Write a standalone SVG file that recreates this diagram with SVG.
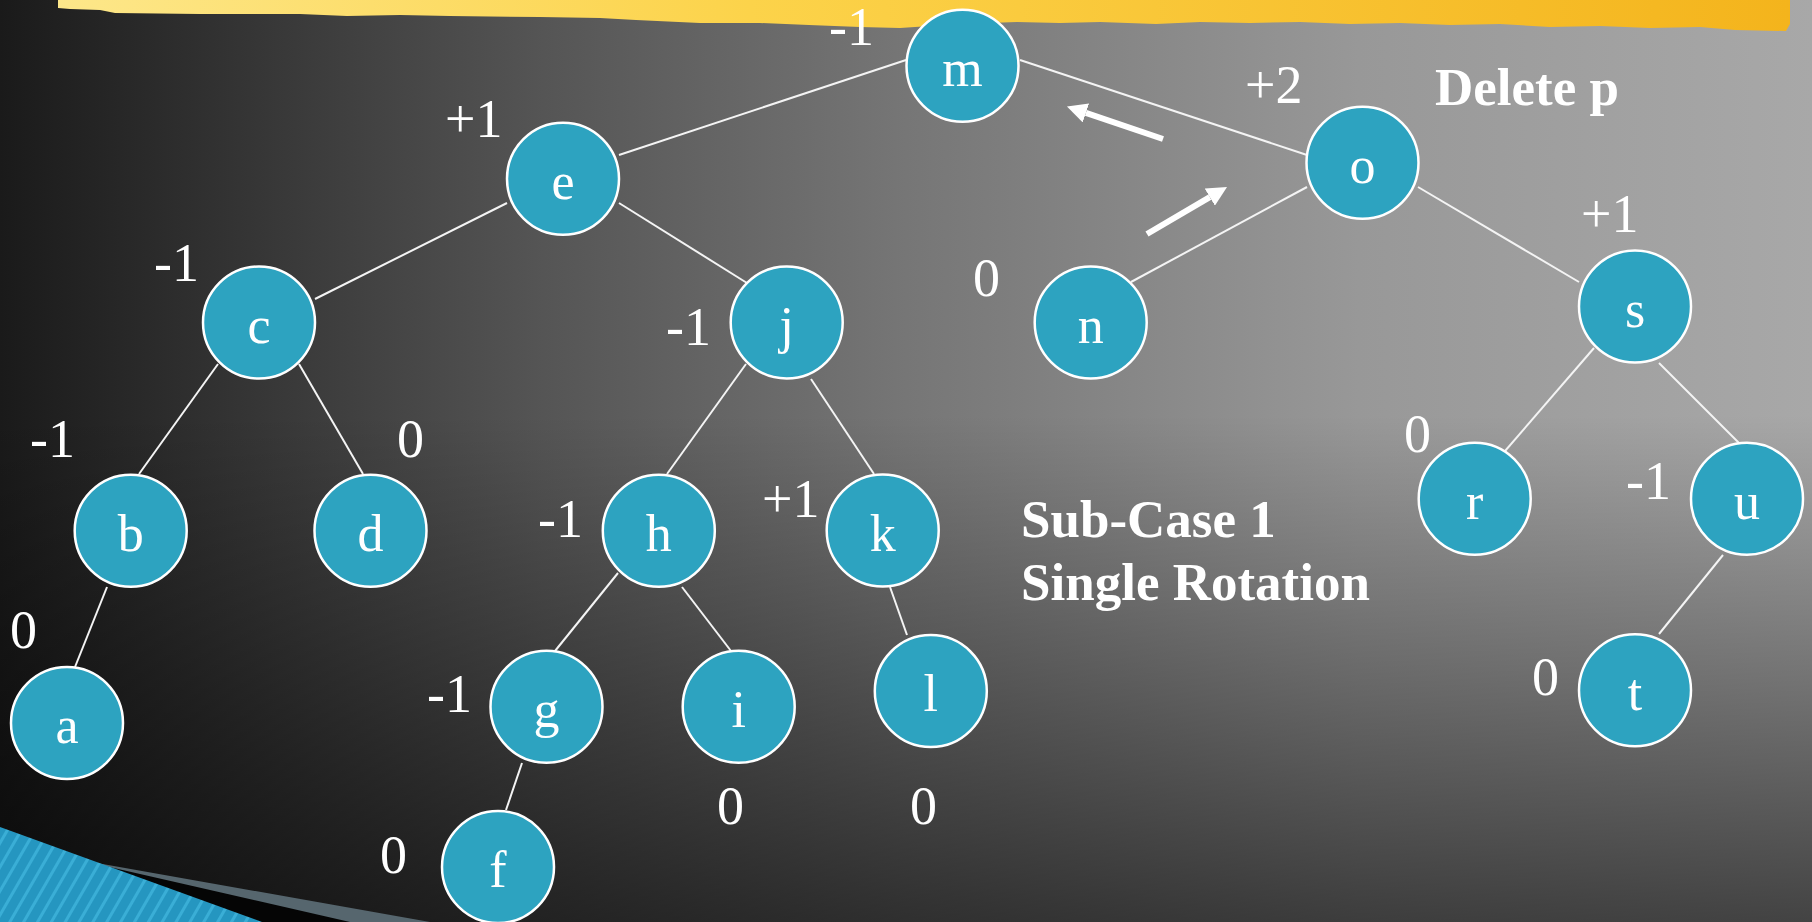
<svg xmlns="http://www.w3.org/2000/svg" width="1812" height="922" viewBox="0 0 1812 922">
<style>
.nd{fill:#2DA3C0;stroke:#ffffff;stroke-width:2.5}
.lt{font-family:"Liberation Serif","Times New Roman",serif;font-size:52px;fill:#ffffff;text-anchor:middle}
.bl{font-family:"Liberation Serif","Times New Roman",serif;font-size:54px;fill:#ffffff}
.ttl{font-family:"Liberation Serif","Times New Roman",serif;font-size:53px;font-weight:bold;fill:#ffffff}
.cn line{stroke:#f4f4f4;stroke-width:2}
.ar{stroke:#ffffff;stroke-width:6;marker-end:url(#ah)}
</style>
<defs>
<linearGradient id="bgH" x1="0" y1="0" x2="1812" y2="0" gradientUnits="userSpaceOnUse">
<stop offset="0" stop-color="#1a1a1a"/>
<stop offset="0.3" stop-color="#555555"/>
<stop offset="0.5" stop-color="#767676"/>
<stop offset="0.75" stop-color="#989898"/>
<stop offset="1" stop-color="#a8a8a8"/>
</linearGradient>
<linearGradient id="bgV" x1="0" y1="0" x2="0" y2="922" gradientUnits="userSpaceOnUse">
<stop offset="0" stop-color="#000" stop-opacity="0"/>
<stop offset="0.45" stop-color="#000" stop-opacity="0"/>
<stop offset="1" stop-color="#000" stop-opacity="0.6"/>
</linearGradient>
<linearGradient id="yel" x1="58" y1="0" x2="1790" y2="0" gradientUnits="userSpaceOnUse">
<stop offset="0" stop-color="#fde78a"/>
<stop offset="0.4" stop-color="#fcd34a"/>
<stop offset="1" stop-color="#f4b41c"/>
</linearGradient>
<pattern id="stripes" x="0" y="0" width="12" height="12" patternUnits="userSpaceOnUse" patternTransform="rotate(30)">
<rect width="12" height="12" fill="#2596c0"/>
<rect width="3" height="12" fill="#3aaed6"/>
</pattern>
<marker id="ah" viewBox="0 0 20 20" refX="0" refY="10" markerWidth="20" markerHeight="20" markerUnits="userSpaceOnUse" orient="auto">
<path d="M0,0 L20,10 L0,20 z" fill="#ffffff"/>
</marker>
</defs>
<rect width="1812" height="922" fill="url(#bgH)"/>
<rect width="1812" height="922" fill="url(#bgV)"/>
<polygon points="58,0 1790,0 1790,24 1786,31 1735,30 1700,27 1650,28 1600,26 1550,27 1500,24 1450,25 1400,23 1350,24 1300,22 1250,23 1200,22 1156,24 1100,22 1060,23 1017,22 960,24 900,28 860,27 809,25 760,23 700,23 636,20 600,18 540,17 450,16 400,15 347,16 300,14 200,14 115,13 100,10 70,9 58,8" fill="url(#yel)"/>
<g id="corner">
<polygon points="80,860 430,922 0,922" fill="#56666e"/>
<polygon points="70,858 350,922 0,922" fill="#050505"/>
<polygon points="0,827 262,922 0,922" fill="url(#stripes)"/>
</g>
<g id="connectors" class="cn">
<line x1="619" y1="155" x2="906" y2="60"/>
<line x1="1020" y1="60" x2="1307" y2="155"/>
<line x1="507" y1="203" x2="315" y2="299"/>
<line x1="619" y1="203" x2="747" y2="283"/>
<line x1="218" y1="364" x2="139" y2="474"/>
<line x1="299" y1="364" x2="363" y2="474"/>
<line x1="107" y1="587" x2="75" y2="667"/>
<line x1="746" y1="364" x2="667" y2="474"/>
<line x1="811" y1="379" x2="874" y2="474"/>
<line x1="618" y1="573" x2="555" y2="651"/>
<line x1="682" y1="587" x2="731" y2="651"/>
<line x1="890" y1="587" x2="907" y2="635"/>
<line x1="522" y1="763" x2="506" y2="810"/>
<line x1="1307" y1="187" x2="1131" y2="282"/>
<line x1="1418" y1="187" x2="1579" y2="282"/>
<line x1="1594" y1="348" x2="1499" y2="458"/>
<line x1="1659" y1="363" x2="1739" y2="443"/>
<line x1="1723" y1="555" x2="1659" y2="634"/>
</g>
<g id="arrows">
<line class="ar" x1="1163" y1="139" x2="1085.9" y2="112.9"/>
<line class="ar" x1="1147" y1="234" x2="1209.8" y2="197.1"/>
</g>
<g id="node-m"><circle class="nd" cx="962.5" cy="65.8" r="56"/><text class="lt" x="962.5" y="86">m</text><text class="bl" x="829" y="45">-1</text></g>
<g id="node-e"><circle class="nd" cx="563" cy="178.7" r="56"/><text class="lt" x="563" y="199">e</text><text class="bl" x="445" y="137">+1</text></g>
<g id="node-c"><circle class="nd" cx="259" cy="322.5" r="56"/><text class="lt" x="259" y="343">c</text><text class="bl" x="154" y="281">-1</text></g>
<g id="node-j"><circle class="nd" cx="786.7" cy="322.5" r="56"/><text class="lt" x="786.7" y="343">j</text><text class="bl" x="666" y="345">-1</text></g>
<g id="node-b"><circle class="nd" cx="130.7" cy="530.7" r="56"/><text class="lt" x="130.7" y="551">b</text><text class="bl" x="30" y="457">-1</text></g>
<g id="node-d"><circle class="nd" cx="370.5" cy="530.7" r="56"/><text class="lt" x="370.5" y="551">d</text><text class="bl" x="397" y="457">0</text></g>
<g id="node-a"><circle class="nd" cx="67" cy="723" r="56"/><text class="lt" x="67" y="743">a</text><text class="bl" x="10" y="648">0</text></g>
<g id="node-h"><circle class="nd" cx="658.8" cy="530.7" r="56"/><text class="lt" x="658.8" y="551">h</text><text class="bl" x="538" y="537">-1</text></g>
<g id="node-k"><circle class="nd" cx="882.7" cy="530.5" r="56"/><text class="lt" x="882.7" y="551">k</text><text class="bl" x="762" y="517">+1</text></g>
<g id="node-g"><circle class="nd" cx="546.5" cy="706.8" r="56"/><text class="lt" x="546.5" y="727">g</text><text class="bl" x="427" y="712">-1</text></g>
<g id="node-i"><circle class="nd" cx="738.7" cy="706.8" r="56"/><text class="lt" x="738.7" y="727">i</text><text class="bl" x="717" y="824">0</text></g>
<g id="node-l"><circle class="nd" cx="930.8" cy="691.1" r="56"/><text class="lt" x="930.8" y="711">l</text><text class="bl" x="910" y="824">0</text></g>
<g id="node-f"><circle class="nd" cx="498" cy="867" r="56"/><text class="lt" x="498" y="887">f</text><text class="bl" x="380" y="873">0</text></g>
<g id="node-n"><circle class="nd" cx="1090.7" cy="322.5" r="56"/><text class="lt" x="1090.7" y="343">n</text><text class="bl" x="973" y="296">0</text></g>
<g id="node-o"><circle class="nd" cx="1362.5" cy="162.7" r="56"/><text class="lt" x="1362.5" y="183">o</text><text class="bl" x="1245" y="103">+2</text></g>
<g id="node-s"><circle class="nd" cx="1635" cy="306.5" r="56"/><text class="lt" x="1635" y="327">s</text><text class="bl" x="1581" y="232">+1</text></g>
<g id="node-r"><circle class="nd" cx="1474.7" cy="498.7" r="56"/><text class="lt" x="1474.7" y="519">r</text><text class="bl" x="1404" y="452">0</text></g>
<g id="node-u"><circle class="nd" cx="1747" cy="498.7" r="56"/><text class="lt" x="1747" y="519">u</text><text class="bl" x="1626" y="499">-1</text></g>
<g id="node-t"><circle class="nd" cx="1635" cy="690.2" r="56"/><text class="lt" x="1635" y="710">t</text><text class="bl" x="1532" y="695">0</text></g>
<g id="titles">
<text class="ttl" x="1435" y="105">Delete p</text>
<text class="ttl" x="1021" y="537">Sub-Case 1</text>
<text class="ttl" x="1021" y="600">Single Rotation</text>
</g>
</svg>
